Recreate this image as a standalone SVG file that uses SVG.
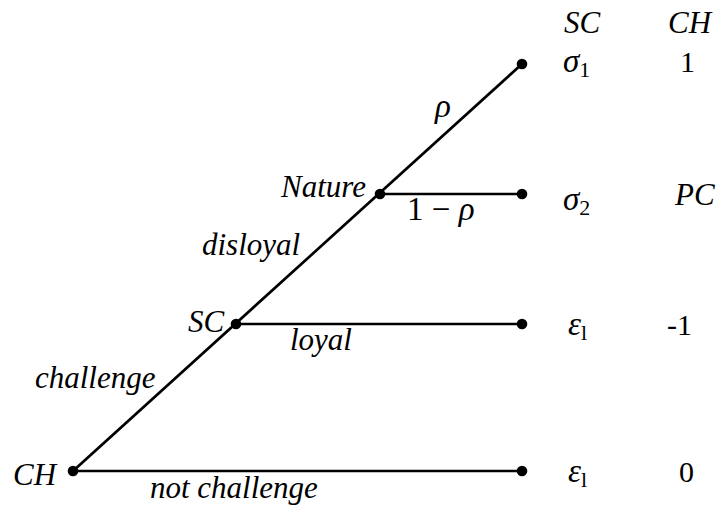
<svg xmlns="http://www.w3.org/2000/svg" width="718" height="505" viewBox="0 0 718 505">
<style>
.e{stroke:#000;stroke-width:2.7;fill:none}
.d{fill:#000}
.t{font-family:'Liberation Serif','DejaVu Serif',serif;font-style:italic;font-size:31px;fill:#000}
.m{font-family:'Liberation Serif','DejaVu Serif',serif;font-size:33px;fill:#000}
.mi{font-style:italic}
.sub{font-size:22px;font-style:normal}
.n{font-family:'Liberation Serif','DejaVu Serif',serif;font-size:30px;fill:#000}
</style>
<rect width="718" height="505" fill="#fff"/>
<g id="connectors">
<line class="e" x1="73" y1="471" x2="522" y2="64"/>
<line class="e" x1="73" y1="471" x2="522" y2="471"/>
<line class="e" x1="236" y1="324" x2="522" y2="324"/>
<line class="e" x1="380" y1="194" x2="522" y2="194"/>
<text class="t" x="150" y="498">not challenge</text>
<text class="t" x="35" y="388">challenge</text>
<text class="t" x="290" y="350">loyal</text>
<text class="t" x="202" y="255">disloyal</text>
<text class="m mi" x="435" y="117">ρ</text>
<text class="m" x="407" y="220">1 − <tspan class="mi">ρ</tspan></text>
</g>
<g id="node-CH">
<circle class="d" cx="73" cy="471" r="5.3"/>
<text class="t" x="13" y="485">CH</text>
</g>
<g id="node-SC">
<circle class="d" cx="236" cy="324" r="5.3"/>
<text class="t" x="188" y="332">SC</text>
</g>
<g id="node-Nature">
<circle class="d" cx="380" cy="194" r="5.3"/>
<text class="t" x="281" y="197">Nature</text>
</g>
<g id="leaf-1">
<circle class="d" cx="522" cy="64" r="5.3"/>
<text class="m mi" x="563" y="72">σ<tspan class="sub" dy="5">1</tspan></text>
<text class="n" x="680" y="72">1</text>
</g>
<g id="leaf-2">
<circle class="d" cx="522" cy="194" r="5.3"/>
<text class="m mi" x="563" y="210">σ<tspan class="sub" dy="5">2</tspan></text>
<text class="t" x="675" y="205">PC</text>
</g>
<g id="leaf-3">
<circle class="d" cx="522" cy="324" r="5.3"/>
<text class="m mi" x="568" y="335">ε<tspan class="sub mi" dy="5">l</tspan></text>
<text class="n" x="667" y="335">-1</text>
</g>
<g id="leaf-4">
<circle class="d" cx="522" cy="471" r="5.3"/>
<text class="m mi" x="568" y="482">ε<tspan class="sub mi" dy="5">l</tspan></text>
<text class="n" x="679" y="482">0</text>
</g>
<g id="header">
<text class="t" x="564" y="33">SC</text>
<text class="t" x="668" y="33">CH</text>
</g>
</svg>
